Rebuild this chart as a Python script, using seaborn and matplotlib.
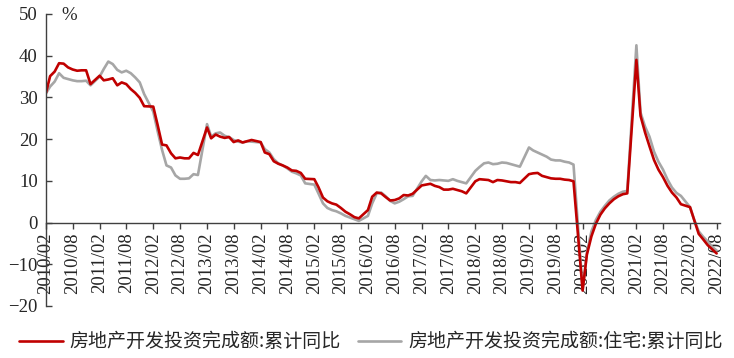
import numpy as np
import pandas as pd
import matplotlib
matplotlib.use('Agg')
import matplotlib.pyplot as plt
import matplotlib.dates as mdates
import seaborn as sns

# monthly cumulative yoy (%), Feb..Dec each year (Jan is reported together with Feb)
total_yoy = [
    31.1, 35.1, 36.2, 38.2, 38.1, 37.2, 36.7, 36.4, 36.5, 36.5, 33.2,   # 2010
    35.2, 34.1, 34.3, 34.6, 32.9, 33.6, 33.2, 32.0, 31.1, 29.9, 27.9,   # 2011
    27.8, 23.5, 18.7, 18.5, 16.6, 15.4, 15.6, 15.4, 15.4, 16.7, 16.2,   # 2012
    22.8, 20.2, 21.1, 20.6, 20.3, 20.5, 19.3, 19.7, 19.2, 19.5, 19.8,   # 2013
    19.3, 16.8, 16.4, 14.7, 14.1, 13.7, 13.2, 12.5, 12.4, 11.9, 10.5,   # 2014
    10.4, 8.5, 6.0, 5.1, 4.6, 4.3, 3.5, 2.6, 2.0, 1.3, 1.0,             # 2015
    3.0, 6.2, 7.2, 7.0, 6.1, 5.3, 5.4, 5.8, 6.6, 6.5, 6.9,              # 2016
    8.9, 9.1, 9.3, 8.8, 8.5, 7.9, 7.9, 8.1, 7.8, 7.5, 7.0,              # 2017
    9.9, 10.4, 10.3, 10.2, 9.7, 10.2, 10.1, 9.9, 9.7, 9.7, 9.5,         # 2018
    11.6, 11.8, 11.9, 11.2, 10.9, 10.6, 10.5, 10.5, 10.3, 10.2, 9.9,    # 2019
    -16.3, -7.7, -3.3, -0.3, 1.9, 3.4, 4.6, 5.6, 6.3, 6.8, 7.0,         # 2020
    39.0, 25.6, 21.6, 18.3, 15.0, 12.7, 10.9, 8.8, 7.2, 6.0, 4.4,       # 2021
    3.7, 0.7, -2.7, -4.0, -5.4, -6.4, -7.4,                             # 2022
]
housing_yoy = [
    31.0, 32.6, 33.8, 35.8, 34.7, 34.4, 34.1, 33.9, 33.9, 34.0, 32.9,   # 2010
    35.0, 36.8, 38.6, 38.0, 36.6, 36.0, 36.4, 35.8, 34.8, 33.6, 30.8,   # 2011
    26.6, 22.0, 17.4, 13.7, 13.2, 11.3, 10.5, 10.5, 10.6, 11.6, 11.4,   # 2012
    23.6, 20.6, 21.4, 21.6, 20.8, 20.5, 19.8, 19.4, 19.2, 19.5, 19.4,   # 2013
    19.2, 17.6, 16.8, 15.2, 14.2, 13.7, 13.0, 12.2, 11.8, 11.3, 9.4,    # 2014
    9.1, 7.0, 4.6, 3.5, 3.0, 2.7, 2.2, 1.6, 1.2, 0.8, 0.4,              # 2015
    1.6, 4.6, 7.0, 7.2, 6.3, 5.2, 4.6, 5.0, 5.6, 6.3, 6.4,              # 2016
    9.9, 11.2, 10.2, 10.1, 10.2, 10.1, 10.0, 10.4, 10.0, 9.7, 9.4,      # 2017
    12.4, 13.3, 14.2, 14.4, 14.0, 14.1, 14.4, 14.3, 14.0, 13.7, 13.4,   # 2018
    18.0, 17.3, 16.8, 16.3, 15.8, 15.1, 14.9, 14.9, 14.6, 14.4, 13.9,   # 2019
    -16.0, -7.2, -2.1, 0.6, 2.6, 4.0, 5.3, 6.2, 6.9, 7.4, 7.6,          # 2020
    42.5, 26.4, 23.0, 20.6, 17.0, 14.6, 12.7, 10.3, 8.4, 7.1, 6.4,      # 2021
    3.7, 0.7, -2.1, -3.4, -4.5, -5.8, -6.7,                             # 2022
]
total_name = '房地产开发投资完成额:累计同比'
housing_name = '房地产开发投资完成额:住宅:累计同比'
y_ticks = [-20, -10, 0, 10, 20, 30, 40, 50]

months = pd.date_range('2010-02-01', '2022-08-01', freq='MS')
months = months[months.month != 1]

df = pd.DataFrame({'date': months, total_name: total_yoy, housing_name: housing_yoy})
df = df.melt(id_vars='date', var_name='series', value_name='value')

sns.set_theme(style='white')
plt.rcParams['font.family'] = ['Liberation Serif', 'Noto Sans CJK SC']

fig = plt.figure(figsize=(7.34, 3.58), dpi=100)
ax = fig.add_axes([46 / 734, 1 - 306 / 358, 674 / 734, 292 / 358])

sns.lineplot(data=df[df.series == housing_name], x='date', y='value',
             color='#A6A6A6', linewidth=1.9, label=housing_name, ax=ax)
sns.lineplot(data=df[df.series == total_name], x='date', y='value',
             color='#C00000', linewidth=1.9, label=total_name, ax=ax)

ax.set_xlim(pd.Timestamp('2010-02-01'), pd.Timestamp('2022-08-24'))
ax.set_ylim(-20, 50)
ax.set_yticks(y_ticks)
ax.set_xlabel('')
ax.set_ylabel('')

ax.xaxis.set_major_locator(mdates.MonthLocator(bymonth=[2, 8]))
ax.xaxis.set_major_formatter(mdates.DateFormatter('%Y/%m'))

ax.spines['top'].set_visible(False)
ax.spines['right'].set_visible(False)
ax.spines['bottom'].set_position(('data', 0))
for s in ['left', 'bottom']:
    ax.spines[s].set_color('#404040')
    ax.spines[s].set_linewidth(1.0)

ax.tick_params(axis='x', direction='out', length=4, width=1, color='#404040',
               labelsize=13.5, pad=3, bottom=True, labelrotation=90)
ax.tick_params(axis='y', direction='in', length=4, width=1, color='#404040',
               labelsize=13.5, pad=6, left=True)

ax.text(0.034, 0.995, '%', transform=ax.transAxes, ha='center', va='center',
        fontsize=13.5)

h, l = ax.get_legend_handles_labels()
ax.get_legend().remove()
fig.legend([h[1], h[0]], [l[1], l[0]], loc='center', bbox_to_anchor=(0.505, 0.045),
           ncol=2, frameon=False, prop={'family': ['Noto Sans CJK SC'], 'size': 13.7},
           handlelength=2.3, handletextpad=0.35, columnspacing=0.9)

fig.savefig('out.png', dpi=100)
